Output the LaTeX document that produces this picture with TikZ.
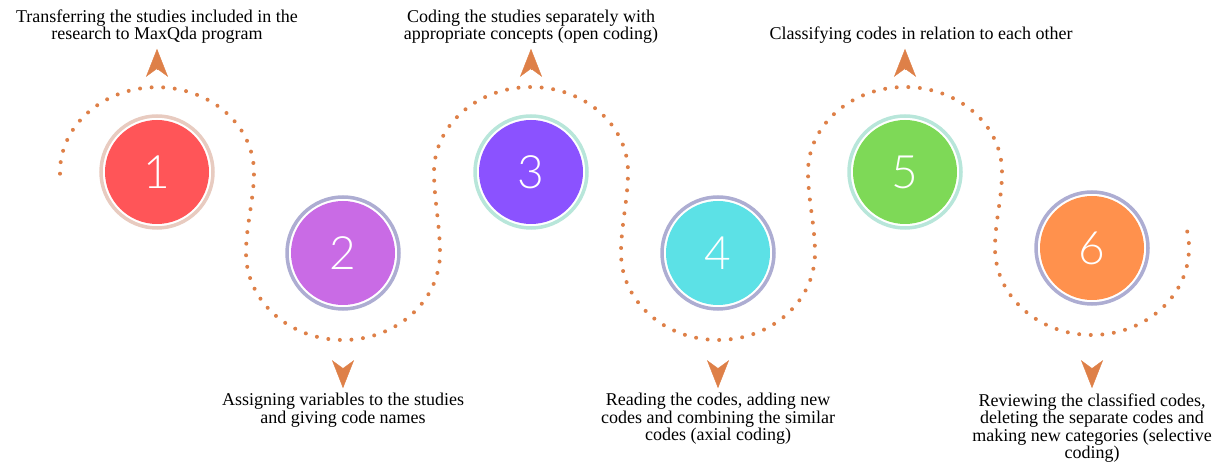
\documentclass[tikz,border=0pt]{standalone}
\usepackage{fontspec}
\setmainfont{Liberation Serif}
\IfFontExistsTF{Lato Light}{\newfontfamily\numfont{Lato Light}}{\newfontfamily\numfont{Lato}}
\usepackage{xcolor}
\usetikzlibrary{arrows.meta,positioning}
\definecolor{trailc}{HTML}{DE8048}
\definecolor{redc}{HTML}{FF5558}
\definecolor{pinkc}{HTML}{C96BE5}
\definecolor{violetc}{HTML}{8B52FF}
\definecolor{cyanc}{HTML}{5CE1E6}
\definecolor{greenc}{HTML}{7ED957}
\definecolor{orangec}{HTML}{FF914D}
\definecolor{beigering}{HTML}{E8CBC0}
\definecolor{lavring}{HTML}{ADADD2}
\definecolor{mintring}{HTML}{B8E6DA}
\tikzset{%
	disc/.style     = {circle, fill=#1, minimum size=104pt, inner sep=0pt, text=white, font=\numfont\fontsize{46}{46}\selectfont},
	halo/.style     = {draw=#1, line width=3.5pt}, % ring round a disc
	trail/.style    = {draw=trailc, line width=4pt, line cap=round, dash pattern=on 0pt off 11.6pt},
	pointer/.style  = {draw=trailc, fill=trailc, -{Stealth[length=28pt,width=22pt,inset=8pt]}},
	caption/.style  = {align=center, inner sep=0pt, font=\fontsize{18}{17.5}\selectfont},
}
\begin{document}
\begin{tikzpicture}[x=1pt,y=1pt]
	\useasboundingbox (0,0) rectangle (1226,466);
	% wavy dotted trail
	\draw[trail] (60,292.3)
		arc[start angle=181, end angle=0, x radius=97, y radius=85]
		.. controls (254,267) and (246,240) .. (246,213)
		arc[start angle=180, end angle=360, x radius=97, y radius=87]
		.. controls (440,240) and (434,267) .. (434,294)
		arc[start angle=180, end angle=0, x radius=97, y radius=85]
		.. controls (628,267) and (621,240) .. (621,213)
		arc[start angle=180, end angle=360, x radius=97, y radius=87]
		.. controls (815,240) and (808,267) .. (808,294)
		arc[start angle=180, end angle=0, x radius=97, y radius=85]
		.. controls (1002,267) and (995,245) .. (995,218)
		arc[start angle=180, end angle=374, x radius=97, y radius=87];
	
	\node [disc=redc] (s1) at (157,294) {1};
	\node [disc=pinkc] (s2) at (343,213) {2};
	\node [disc=violetc] (s3) at (531,294) {3};
	\node [disc=cyanc] (s4) at (718,213) {4};
	\node [disc=greenc] (s5) at (905,294) {5};
	\node [disc=orangec] (s6) at (1092,218) {6};
	\draw[halo=beigering] (s1) circle[radius=56];
	\draw[halo=lavring] (s2) circle[radius=56];
	\draw[halo=mintring] (s3) circle[radius=56];
	\draw[halo=lavring] (s4) circle[radius=56];
	\draw[halo=mintring] (s5) circle[radius=56];
	\draw[halo=lavring] (s6) circle[radius=56];
	
	\node [caption] (t1) [above=76pt of s1] {Transferring the studies included in the\\research to MaxQda program};
	\node [caption] (t2) [below=88pt of s2] {Assigning variables to the studies\\and giving code names};
	\node [caption] (t3) [above=76pt of s3] {Coding the studies separately with\\appropriate concepts (open coding)};
	\node [caption] (t4) [below=88pt of s4] {Reading the codes, adding new\\codes and combining the similar\\codes (axial coding)};
	\node [caption] (t5) [above=76pt of s5, xshift=16pt] {Classifying codes in relation to each other};
	\node [caption] (t6) [below=93pt of s6] {Reviewing the classified codes,\\deleting the separate codes and\\making new categories (selective\\coding)};
	
	\draw[pointer] ([yshift=-25pt]t1.south) -- ([yshift=-5pt]t1.south);
	\draw[pointer] ([yshift=25pt]t2.north) -- ([yshift=5pt]t2.north);
	\draw[pointer] ([yshift=-25pt]t3.south) -- ([yshift=-5pt]t3.south);
	\draw[pointer] ([yshift=25pt]t4.north) -- ([yshift=5pt]t4.north);
	\draw[pointer] ([yshift=-25pt]t5.south -| s5) -- ([yshift=-5pt]t5.south -| s5);
	\draw[pointer] ([yshift=25pt]t6.north) -- ([yshift=5pt]t6.north);
\end{tikzpicture}
\end{document}
